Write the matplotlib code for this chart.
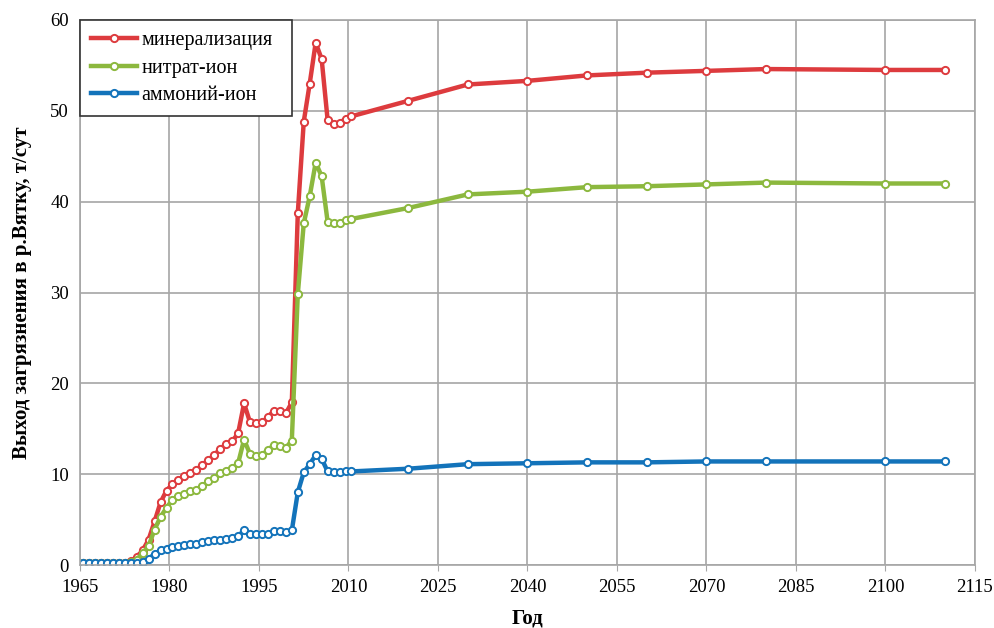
import matplotlib
matplotlib.use("Agg")
import matplotlib.pyplot as plt
import numpy as np

years = [1965.5, 1966.5, 1967.5, 1968.5, 1969.5, 1970.5, 1971.5, 1972.5, 1973.5, 1974.5,
         1975.5, 1976.5, 1977.5, 1978.5, 1979.5, 1980.5, 1981.5, 1982.5, 1983.5, 1984.5,
         1985.5, 1986.5, 1987.5, 1988.5, 1989.5, 1990.5, 1991.5, 1992.5, 1993.5, 1994.5,
         1995.5, 1996.5, 1997.5, 1998.5, 1999.5, 2000.5, 2001.5, 2002.5, 2003.5, 2004.5,
         2005.5, 2006.5, 2007.5, 2008.5, 2009.5, 2010.5,
         2020, 2030, 2040, 2050, 2060, 2070, 2080, 2100, 2110]

mineral = [0.2, 0.2, 0.2, 0.2, 0.2, 0.2, 0.2, 0.2, 0.4, 0.9,
           1.6, 2.8, 4.8, 6.9, 8.2, 8.9, 9.4, 9.8, 10.1, 10.5,
           11.0, 11.6, 12.1, 12.8, 13.3, 13.6, 14.5, 17.8, 15.7, 15.6,
           15.7, 16.3, 17.0, 17.0, 16.7, 17.9, 38.7, 48.8, 53.0, 57.5,
           55.7, 49.0, 48.6, 48.7, 49.1, 49.4,
           51.1, 52.9, 53.3, 53.9, 54.2, 54.4, 54.6, 54.5, 54.5]

nitrate = [0.2, 0.2, 0.2, 0.2, 0.2, 0.2, 0.2, 0.2, 0.3, 0.6,
           1.3, 2.1, 3.9, 5.3, 6.3, 7.2, 7.6, 7.8, 8.1, 8.3,
           8.7, 9.2, 9.6, 10.1, 10.4, 10.7, 11.2, 13.8, 12.2, 12.0,
           12.1, 12.7, 13.2, 13.1, 12.9, 13.7, 29.8, 37.6, 40.6, 44.3,
           42.8, 37.8, 37.6, 37.6, 38.0, 38.1,
           39.3, 40.8, 41.1, 41.6, 41.7, 41.9, 42.1, 42.0, 42.0]

ammonium = [0.2, 0.2, 0.2, 0.2, 0.2, 0.2, 0.2, 0.2, 0.25, 0.25,
            0.37, 0.7, 1.2, 1.6, 1.8, 2.0, 2.1, 2.2, 2.3, 2.3,
            2.5, 2.6, 2.7, 2.8, 2.9, 3.0, 3.2, 3.8, 3.4, 3.4,
            3.4, 3.4, 3.7, 3.7, 3.6, 3.8, 8.0, 10.2, 11.1, 12.1,
            11.7, 10.3, 10.2, 10.2, 10.3, 10.3,
            10.6, 11.1, 11.2, 11.3, 11.3, 11.4, 11.4, 11.4, 11.4]

labels = ["минерализация", "нитрат-ион", "аммоний-ион"]
colors = ["#DD3B3E", "#8CB83E", "#1373BA"]
xticks = [1965, 1980, 1995, 2010, 2025, 2040, 2055, 2070, 2085, 2100, 2115]
yticks = [0, 10, 20, 30, 40, 50, 60]

plt.rcParams['font.family'] = ['Liberation Serif', 'DejaVu Serif']

fig = plt.figure(figsize=(9.94, 6.28), dpi=100)
ax = fig.add_axes([80 / 994, 63 / 628, 895 / 994, 545 / 628])

for series, lab, col in zip([mineral, nitrate, ammonium], labels, colors):
    ax.plot(years, series, color=col, lw=3.2, marker='o', ms=5.2,
            mfc='white', mec=col, mew=1.4, label=lab, solid_joinstyle='round')

ax.set_xlim(1965, 2115)
ax.set_ylim(0, 60)
ax.set_xticks(xticks)
ax.set_yticks(yticks)
ax.grid(True, color='#A6A6A6', lw=1.2)
ax.set_axisbelow(True)
for s in ax.spines.values():
    s.set_color('#A6A6A6')
    s.set_linewidth(1.2)
ax.tick_params(axis='both', labelsize=13.5, length=4, color='#A6A6A6')
ax.tick_params(axis='y', length=0, pad=8)
ax.tick_params(axis='x', pad=6)

ax.set_xlabel("Год", fontsize=15, fontweight='bold', labelpad=9)
ax.set_ylabel("Выход загрязнения в р.Вятку, т/сут", fontsize=15,
              fontweight='bold', labelpad=13)

leg = ax.legend(loc='upper left', bbox_to_anchor=(0.0, 0.0, 212 / 895, 1.0),
                mode='expand', fontsize=14.5,
                frameon=True, fancybox=False, borderaxespad=0.0,
                handlelength=2.3, handletextpad=0.2, labelspacing=0.42,
                borderpad=0.55)
leg.get_frame().set_edgecolor('#333333')
leg.get_frame().set_linewidth(1.2)
leg.get_frame().set_alpha(1.0)

fig.savefig("out.png", dpi=100)
